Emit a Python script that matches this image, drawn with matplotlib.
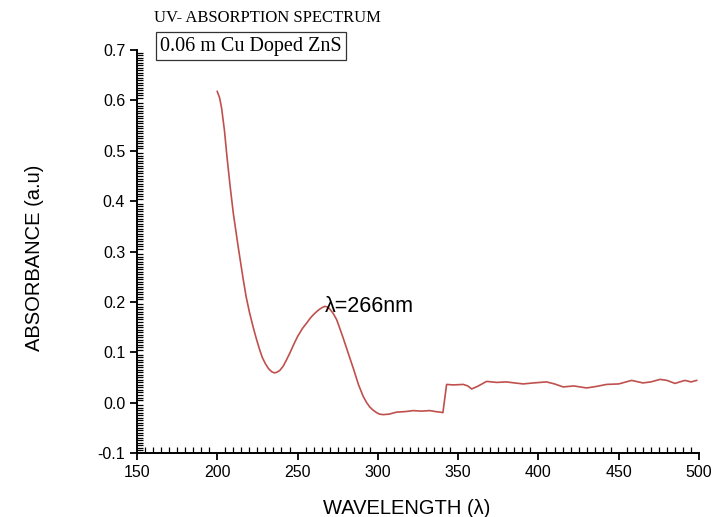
import matplotlib
matplotlib.use("Agg")
import matplotlib.pyplot as plt
from matplotlib.ticker import MultipleLocator, FormatStrFormatter

# ---- spectrum ----
wavelength = [200, 201.5, 202.7, 204.5, 206, 208, 210, 213, 216.2, 218, 220, 222.5, 224.5,
              226.5, 228, 230, 232, 234, 235.5, 237, 239, 241, 243, 245.3, 248, 250, 253,
              255.7, 258, 260, 262, 264, 265.5, 267, 268.5, 270, 272, 274.3, 276, 278, 280,
              282.6, 284.5, 286, 288, 290.9, 293, 295, 297, 299.2, 301, 303.4, 307, 311.7,
              317, 322, 327, 332.4, 336, 338.7, 340.5, 342.8, 347, 353.2, 356, 358.4, 362,
              367.7, 374, 380, 385, 390.5, 397, 405, 410, 415.4, 422, 430, 436, 442.4, 450,
              458, 465, 470, 475.7, 480, 485, 488, 491.2, 495, 498.5]
absorbance = [0.618, 0.605, 0.585, 0.54, 0.49, 0.43, 0.376, 0.31, 0.244, 0.21, 0.18, 0.148, 0.125,
              0.104, 0.09, 0.077, 0.067, 0.061, 0.059, 0.06, 0.064, 0.072, 0.084, 0.099, 0.118, 0.131, 0.147,
              0.158, 0.168, 0.175, 0.181, 0.186, 0.189, 0.191, 0.19, 0.186, 0.178, 0.165, 0.15, 0.132, 0.113,
              0.088, 0.07, 0.055, 0.035, 0.012, 0.0, -0.009, -0.015, -0.02, -0.023, -0.024, -0.023, -0.019,
              -0.018, -0.016, -0.017, -0.016, -0.018, -0.019, -0.02, 0.036, 0.035, 0.036, 0.033, 0.027, 0.032,
              0.042, 0.04, 0.041, 0.039, 0.037, 0.039, 0.041, 0.037, 0.031, 0.033, 0.029, 0.032, 0.036, 0.037,
              0.044, 0.039, 0.041, 0.046, 0.044, 0.038, 0.041, 0.044, 0.041, 0.044]

RED = "#c0504d"
SANS = "Liberation Sans"
SERIF = "Liberation Serif"

fig = plt.figure(figsize=(7.17, 5.17), dpi=100)
ax = fig.add_axes([0.191, 0.124, 0.784, 0.779])
ax.plot(wavelength, absorbance, color=RED, lw=1.2)

ax.set_xlim(150, 500)
ax.set_ylim(-0.1, 0.7)
ax.xaxis.set_major_locator(MultipleLocator(50))
ax.xaxis.set_minor_locator(MultipleLocator(5))
ax.yaxis.set_major_locator(MultipleLocator(0.1))
ax.yaxis.set_minor_locator(MultipleLocator(0.005))
ax.yaxis.set_major_formatter(FormatStrFormatter("%.1f"))

for s in ("top", "right"):
    ax.spines[s].set_visible(False)
for s in ("left", "bottom"):
    ax.spines[s].set_linewidth(1.4)
ax.tick_params(which="major", direction="out", length=5, width=1.3, labelsize=11.5)
ax.tick_params(which="minor", direction="in", length=4, width=0.9)
for lab in ax.get_xticklabels() + ax.get_yticklabels():
    lab.set_fontfamily(SANS)

ax.set_xlabel("WAVELENGTH (λ)", fontsize=14.5, family=SANS)
ax.set_ylabel("ABSORBANCE (a.u)", fontsize=14.5, family=SANS)
ax.xaxis.set_label_coords(0.48, -0.115)
ax.yaxis.set_label_coords(-0.165, 0.485)

fig.text(0.373, 0.965, "UV- ABSORPTION SPECTRUM", ha="center", va="center",
         fontsize=12, family=SERIF)
fig.text(0.35, 0.911, "0.06 m Cu Doped ZnS", ha="center", va="center",
         fontsize=14.5, family=SERIF,
         bbox=dict(boxstyle="square,pad=0.2", fc="white", ec="#333333", lw=0.9))

ax.text(267, 0.19, "λ=266nm", ha="left", va="center", fontsize=15.5, family=SANS)

fig.savefig("out.png", dpi=100, facecolor="white")
